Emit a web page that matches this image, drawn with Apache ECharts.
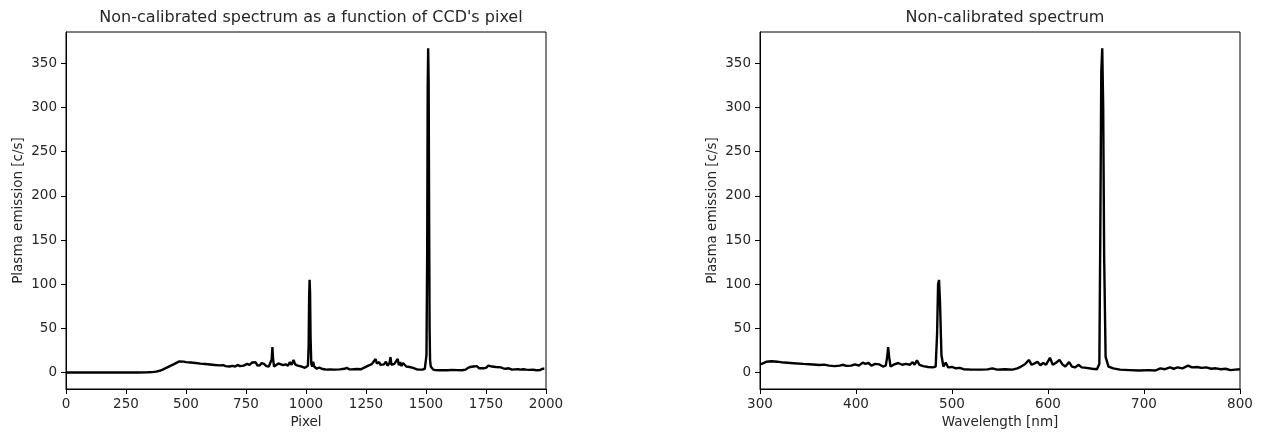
<!DOCTYPE html>
<html>
<head>
<meta charset="utf-8">
<script src="https://cdn.jsdelivr.net/npm/echarts@6/dist/echarts.min.js"></script>
<style>
html,body{margin:0;padding:0;background:#fff;}
#chart{width:1261px;height:435px;}
</style>
</head>
<body>
<div id="chart"></div>
<script>
// Left panel: counts vs CCD pixel
const pixelX = [0,50,100,150,200,250,300,340,360,375,390,405,420,435,450,462,472,480,490,500,520,540,560,580,600,620,640,655,665,680,695,705,715,725,740,755,765,775,782,790,798,808,815,825,835,845,853,857,860,863,867,875,885,895,905,915,925,933,940,948,955,965,975,985,995,1003,1008,1011,1013,1015,1017,1019,1022,1026,1030,1034,1038,1045,1055,1065,1075,1085,1100,1120,1140,1160,1170,1180,1190,1210,1230,1245,1255,1265,1275,1283,1290,1295,1300,1305,1310,1318,1325,1333,1340,1348,1352,1356,1360,1368,1375,1382,1387,1392,1398,1404,1412,1418,1425,1432,1440,1446,1452,1460,1470,1485,1495,1502,1505,1507,1509,1511,1513,1515,1517,1520,1525,1530,1540,1555,1570,1590,1610,1630,1650,1665,1675,1685,1690,1697,1705,1712,1722,1730,1740,1750,1760,1768,1775,1783,1792,1800,1812,1822,1832,1845,1858,1870,1882,1895,1905,1918,1930,1945,1960,1975,1985,1993,2000];
const pixelCounts = [0.3,0.3,0.2,0.3,0.3,0.4,0.3,0.5,0.7,1.2,2.2,3.8,5.8,7.8,9.8,11.5,12.8,13.2,12.6,12.0,11.5,11.0,10.3,9.8,9.3,8.8,8.3,8.5,7.5,7.0,7.8,7.0,8.8,7.5,8.0,10.0,8.8,11.5,10.0,11.8,8.0,8.5,11.0,10.0,7.5,7.0,7.5,15,29,15,7.0,8.0,10.5,9.5,8.5,9.5,8.0,12.0,9.0,14.5,9.5,8.0,7.5,6.5,5.5,6.5,8,30,85,105,90,40,10,7,12.5,7,6,4.5,6.0,4.5,4.0,3.5,3.8,3.5,3.8,4.5,5.5,4.0,3.8,4.2,4.0,6.0,7.5,8.5,10.0,13.0,15.5,10.5,8.5,12.0,9.0,11.0,9.5,12.5,8.0,11.0,17.5,9.0,11.0,10.0,12.0,15.5,8.5,12.0,7.5,11.0,12.5,7.0,8.0,6.5,8.5,5.5,5.0,4.0,3.5,3.5,4.5,20,140,320,367,330,180,50,14,7,5.0,3.5,3.0,2.8,3.0,2.8,3.2,3.0,2.8,3.5,5.5,6.5,5.0,7.0,5.5,7.5,5.0,5.5,5.0,5.5,8.0,6.5,7.0,6.0,6.5,5.5,6.0,5.0,4.5,5.0,3.5,3.8,4.0,3.5,4.0,3.5,3.2,3.5,2.8,3.0,4.5,4.5];

// Right panel: counts vs wavelength [nm]
const waveX = [300,303,307,312,318,325,335,345,355,362,367,372,378,383,386,390,395,399,403,407,410,413,416,420,424,428,431,432.5,433.5,434.5,436,440,444,448,452,456,459,461,463.5,466,470,475,480,483,484.5,485.5,486.5,487.5,489,491,493.5,496,500,504,508,512,520,530,537,542,547,555,563,568,572,576,580,583,586,589,592,595,598,602,605,608,612,615,618,620,622,625,628,632,635,640,646,651,653.5,654.5,655.5,656.5,657.5,658.5,660,663,668,675,685,695,705,712,717,722,727,731,735,740,746,750,755,760,765,770,775,780,785,790,795,800];
const waveCounts = [9.5,10.5,12.5,13.0,12.5,11.5,10.8,10.0,9.3,8.8,9.2,8.0,7.5,8.0,9.0,7.8,8.0,9.5,8.0,11.5,10.0,11.0,8.0,10.0,9.5,7.0,8.0,18,29,18,7,9.5,11.0,9.0,10.0,9.0,12.0,9.0,14.0,9.0,7.5,6.5,6.0,7.0,45,100,105,80,20,7,11.5,6,6.5,5.0,5.5,4.0,3.5,3.5,3.8,5.0,3.5,4.0,3.5,5.0,7.0,9.5,14.5,9.0,10.5,12.5,8.5,11.0,9.0,17.0,9.0,11.0,14.5,9.5,7.0,8.0,12.0,7.0,6.0,9.0,6.0,5.5,4.5,4.0,10,160,340,367,300,130,18,7,5.0,3.5,3.0,2.5,3.0,2.5,5.0,4.0,6.0,4.5,6.0,5.0,8.0,6.0,6.5,5.5,6.0,4.5,5.0,4.0,4.5,3.0,3.5,4.0];

const yTicks = [0,50,100,150,200,250,300,350];
const leftXTicks = [0,250,500,750,1000,1250,1500,1750,2000];
const rightXTicks = [300,400,500,600,700,800];

const FONT = 'DejaVu Sans';
const TXT = '#262626';

function pairs(xs, ys){ return xs.map((x,i)=>[x, ys[i]]); }
const plain = v => String(v);

function xAxisDef(gridIndex, min, max, ticks, name){
  return {
    type:'value', gridIndex, min, max,
    name, nameLocation:'middle', nameGap:24,
    nameTextStyle:{fontFamily:FONT, fontSize:13.5, color:TXT},
    axisLine:{show:true, onZero:false, lineStyle:{color:'#000', width:1}},
    axisTick:{show:true, length:5, lineStyle:{color:'#000', width:1}, customValues:ticks},
    axisLabel:{fontFamily:FONT, fontSize:13.5, color:TXT, margin:8, customValues:ticks, formatter:plain},
    splitLine:{show:false}
  };
}
function yAxisDef(gridIndex){
  return {
    type:'value', gridIndex, min:-18.4, max:385.4,
    name:'Plasma emission [c/s]', nameLocation:'middle', nameGap:41,
    nameTextStyle:{fontFamily:FONT, fontSize:13.5, color:TXT},
    axisLine:{show:true, onZero:false, lineStyle:{color:'#000', width:1}},
    axisTick:{show:true, length:5, lineStyle:{color:'#000', width:1}, customValues:yTicks},
    axisLabel:{fontFamily:FONT, fontSize:13.5, color:TXT, margin:9, customValues:yTicks, formatter:plain},
    splitLine:{show:false}
  };
}

const chart = echarts.init(document.getElementById('chart'), null, {renderer:'canvas'});
chart.setOption({
  animation:false,
  backgroundColor:'#fff',
  title:[
    {text:"Non-calibrated spectrum as a function of CCD's pixel", left:306, top:5, textAlign:'center',
     textStyle:{fontFamily:FONT, fontSize:16, fontWeight:'normal', color:TXT}},
    {text:'Non-calibrated spectrum', left:1000, top:5, textAlign:'center',
     textStyle:{fontFamily:FONT, fontSize:16, fontWeight:'normal', color:TXT}}
  ],
  grid:[
    {left:66, top:32, width:480, height:357, show:true, borderColor:'#000', borderWidth:1, backgroundColor:'transparent'},
    {left:760, top:32, width:480, height:357, show:true, borderColor:'#000', borderWidth:1, backgroundColor:'transparent'}
  ],
  xAxis:[
    xAxisDef(0, 0, 2000, leftXTicks, 'Pixel'),
    xAxisDef(1, 300, 800, rightXTicks, 'Wavelength [nm]')
  ],
  yAxis:[ yAxisDef(0), yAxisDef(1) ],
  series:[
    {type:'line', xAxisIndex:0, yAxisIndex:0, data:pairs(pixelX, pixelCounts), showSymbol:false, clip:true,
     lineStyle:{color:'#000', width:2.4}, itemStyle:{color:'#000'}},
    {type:'line', xAxisIndex:1, yAxisIndex:1, data:pairs(waveX, waveCounts), showSymbol:false, clip:true,
     lineStyle:{color:'#000', width:2.4}, itemStyle:{color:'#000'}}
  ]
});
</script>
</body>
</html>
